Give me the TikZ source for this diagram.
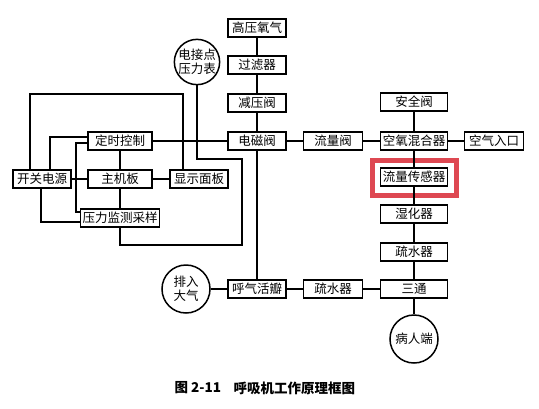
\documentclass[tikz,border=0pt]{standalone}
\usepackage{fontspec}
\newfontfamily\cjk{Noto Sans CJK SC}
\usetikzlibrary{calc}
\definecolor{hl}{RGB}{222,72,82}
\begin{document}
\begin{tikzpicture}[x=1pt,y=-1pt,
  line width=1.1pt,
  bx/.style={draw,line width=1.5pt,inner sep=0pt,minimum height=18pt,font=\cjk\fontsize{12.5}{13}\selectfont},
  w58/.style={bx,minimum width=58pt},
  w59/.style={bx,minimum width=59pt},
  w64/.style={bx,minimum width=64pt},
  w67/.style={bx,minimum width=67pt},
  w79/.style={bx,minimum width=79pt},
  circ/.style={draw,circle,line width=1.5pt,inner sep=0pt,align=center,font=\cjk\fontsize{12.5}{14}\selectfont},
  wire/.style={line width=1.1pt}]
\useasboundingbox (0,0) rectangle (539,408);
\fill[white] (0,0) rectangle (539,408);
% left electronics
\node[w58] (kg) at (42,179) {开关电源};
\node[w64] (zj) at (120,179) {主机板};
\node[w58] (xs) at (199,179) {显示面板};
\node[w64] (ds) at (120,141) {定时控制};
\node[w79] (yl) at (120,218) {压力监测采样};
% oxygen chain
\node[w58] (gy) at (257,28) {高压氧气};
\node[w58] (gl) at (257,65) {过滤器};
\node[w58] (jy) at (257,103) {减压阀};
\node[w58] (dc) at (257,141) {电磁阀};
\node[w58] (hq) at (257,289) {呼气活瓣};
\node[circ,minimum size=42pt] (bj) at (197,62) {电接点\\压力表};
\node[circ,minimum size=48pt] (pr) at (186,289) {排入\\大气};
% right chain
\node[w59] (lf) at (333,141) {流量阀};
\node[w67] (ky) at (414,141) {空氧混合器};
\node[w59] (kq) at (494,141) {空气入口};
\node[w67] (aq) at (414,102) {安全阀};
\node[w67] (ll) at (414,177) {流量传感器};
\node[w67] (sh) at (414,214) {湿化器};
\node[w67] (ss2) at (414,252) {疏水器};
\node[w67] (st) at (414,289) {三通};
\node[w59] (ss1) at (333,289) {疏水器};
\node[circ,minimum size=48pt] (br) at (414,339) {病人端};
% highlight
\node[draw=hl,line width=5pt,minimum width=84pt,minimum height=35pt,inner sep=0pt] (hlbox) at (414,178) {};
% wires: gas path
\draw[wire] (gy.south) -- (gl.north);
\draw[wire] (gl.south) -- (jy.north);
\draw[wire] (jy.south) -- (dc.north);
\draw[wire] (dc.south) -- (hq.north);
\draw[wire] (dc.east) -- (lf.west);
\draw[wire] (lf.east) -- (ky.west);
\draw[wire] (ky.east) -- (kq.west);
\draw[wire] (aq.south) -- (ky.north);
\draw[wire] (ky.south) -- (ll.north);
\draw[wire] (ll.south) -- (sh.north);
\draw[wire] (sh.south) -- (ss2.north);
\draw[wire] (ss2.south) -- (st.north);
\draw[wire] (st.south) -- (br.north);
\draw[wire] (pr.east) -- (hq.west);
\draw[wire] (hq.east) -- (ss1.west);
\draw[wire] (ss1.east) -- (st.west);
% wires: electronics
\draw[wire] (ds.east) -- (dc.west);
\draw[wire] (ds.south) -- (zj.north);
\draw[wire] (zj.south) -- (yl.north);
\draw[wire] (kg.east) -- (zj.west);
\draw[wire] (zj.east) -- (xs.west);
\draw[wire] ([xshift=-12pt]kg.north) |- (183,94) -- ([xshift=-16pt]xs.north);
\draw[wire] ([xshift=8pt]kg.north) |- ([yshift=4pt]ds.west);
\draw[wire] ([yshift=-2pt]ds.west) -| (76,212) -- ([yshift=6pt]yl.west);
\draw[wire] ([xshift=-1pt]kg.south) |- ([yshift=-4pt]yl.west);
\draw[wire] (bj.south) |- (242,159) |- (120,245) -- (yl.south);
% caption
\node[font=\cjk\bfseries\fontsize{13.5}{15}\selectfont,anchor=west,inner sep=0pt] (cap1) at (174,388) {图 2-11};
\node[font=\cjk\bfseries\fontsize{13.5}{15}\selectfont,anchor=west,inner sep=0pt] (cap2) at (233,388) {呼吸机工作原理框图};
\end{tikzpicture}
\end{document}
